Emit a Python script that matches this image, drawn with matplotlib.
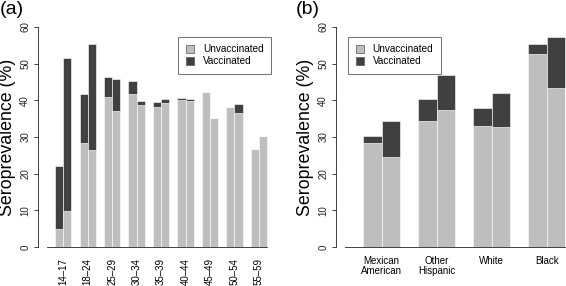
import matplotlib.pyplot as plt
from matplotlib.patches import Patch
import numpy as np

plt.rcParams['font.family'] = ['Liberation Sans', 'DejaVu Sans']

# panel (a): age groups, two bars per group, stacked unvaccinated + vaccinated
age_groups = ['14–17', '18–24', '25–29', '30–34', '35–39', '40–44', '45–49', '50–54', '55–59']
age_unvacc_1 = [4.9, 28.3, 40.8, 41.7, 38.1, 40.2, 42.2, 38.3, 26.6]
age_vacc_1 = [17.2, 13.3, 5.5, 3.6, 1.5, 0.4, 0.0, 0.0, 0.0]
age_unvacc_2 = [9.8, 26.4, 37.1, 38.6, 39.2, 39.8, 35.1, 36.5, 30.4]
age_vacc_2 = [41.7, 28.9, 8.6, 1.1, 1.2, 0.6, 0.0, 2.5, 0.0]

# panel (b): race/ethnicity
eth_groups = ['Mexican\nAmerican', 'Other\nHispanic', 'White', 'Black']
eth_unvacc_1 = [28.4, 34.4, 32.9, 52.6]
eth_vacc_1 = [1.9, 6.0, 5.0, 2.7]
eth_unvacc_2 = [24.5, 37.4, 32.6, 43.3]
eth_vacc_2 = [9.9, 9.5, 9.3, 13.9]

GREY = '#bebebe'
DARK = '#404040'
W, H = 566, 286


def draw_panel(ax, groups, u1, v1, u2, v2, legend_x, rot):
    n = len(groups)
    left = np.arange(n) * 3 + 1
    right = left + 1
    kw = dict(width=1, align='edge', edgecolor='white', linewidth=0.4)
    ax.bar(left, u1, color=GREY, **kw)
    ax.bar(left, v1, bottom=u1, color=DARK, **kw)
    ax.bar(right, u2, color=GREY, **kw)
    ax.bar(right, v2, bottom=u2, color=DARK, **kw)

    total = 3 * n
    ax.set_xlim(-0.04 * total, total * 1.04)
    ax.set_ylim(-2.4, 62.4)
    for s in ['top', 'right', 'bottom']:
        ax.spines[s].set_visible(False)
    ax.spines['left'].set_bounds(0, 60)
    ax.spines['left'].set_linewidth(0.6)
    ax.spines['left'].set_color('#222222')
    ax.plot([0, total], [0, 0], color='#222222', lw=0.6, clip_on=False)

    ax.set_yticks(np.arange(0, 61, 10))
    ax.set_yticklabels([str(t) for t in range(0, 61, 10)], rotation=90, va='center')
    ax.tick_params(axis='y', length=3.2, width=0.6, pad=2.5, labelsize=7, colors='#222222')
    ax.set_xticks(left + 1)
    if rot:
        ax.set_xticklabels(groups, rotation=90, va='top', ha='center')
        ax.tick_params(axis='x', length=0, pad=1.5, labelsize=7)
    else:
        ax.set_xticklabels(groups, linespacing=0.9)
        ax.tick_params(axis='x', length=0, pad=0.5, labelsize=7)

    handles = [Patch(facecolor=GREY, edgecolor='#555555', lw=0.5, label='Unvaccinated'),
               Patch(facecolor=DARK, edgecolor='#555555', lw=0.5, label='Vaccinated')]
    leg = ax.legend(handles=handles, loc='upper left', bbox_to_anchor=(legend_x, 0.921),
                    borderaxespad=0, fontsize=7.2, frameon=True, fancybox=False,
                    handlelength=0.8, handleheight=0.8, handletextpad=0.9,
                    labelspacing=0.2, borderpad=0.75)
    leg.get_frame().set_edgecolor('#333333')
    leg.get_frame().set_linewidth(0.6)


fig = plt.figure(figsize=(W / 100, H / 100), dpi=100)
bottom = (H - 255.8) / H
height = 237.6 / H
ax1 = fig.add_axes([38.2 / W, bottom, 237.6 / W, height])
ax2 = fig.add_axes([336.2 / W, bottom, 237.6 / W, height])

draw_panel(ax1, age_groups, age_unvacc_1, age_vacc_1, age_unvacc_2, age_vacc_2, 0.59, True)
draw_panel(ax2, eth_groups, eth_unvacc_1, eth_vacc_1, eth_unvacc_2, eth_vacc_2, 0.05, False)

for x in [8, 305]:
    fig.text(x / W, 1 - 137 / H, 'Seroprevalence (%)', rotation=90, ha='center', va='center', fontsize=12.8)
fig.text(0 / W, 1 - 1 / H, '(a)', ha='left', va='top', fontsize=14)
fig.text(296 / W, 1 - 1 / H, '(b)', ha='left', va='top', fontsize=14)

fig.savefig('out.png', dpi=100)
